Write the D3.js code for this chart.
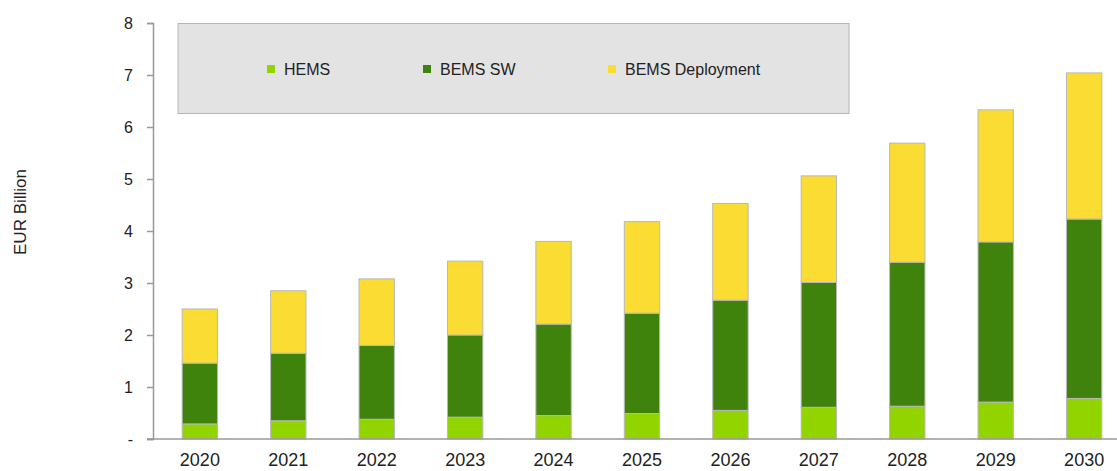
<!DOCTYPE html>
<html>
<head>
<meta charset="utf-8">
<script src="https://cdn.jsdelivr.net/npm/d3@7"></script>
<style>
  html, body { margin: 0; padding: 0; background: #fff; }
  svg { display: block; font-family: "Liberation Sans", Arial, sans-serif; }
</style>
</head>
<body>
<div id="chart"></div>
<script>
// values (EUR billion)
const years = ['2020', '2021', '2022', '2023', '2024', '2025', '2026', '2027', '2028', '2029', '2030'];
const hems = [0.29, 0.35, 0.38, 0.42, 0.45, 0.49, 0.55, 0.61, 0.63, 0.71, 0.78];
const bemsSw = [1.17, 1.30, 1.42, 1.58, 1.76, 1.93, 2.12, 2.40, 2.77, 3.08, 3.45];
const bemsDeploy = [1.04, 1.20, 1.28, 1.42, 1.59, 1.76, 1.86, 2.05, 2.29, 2.54, 2.81];
const seriesNames = ['HEMS', 'BEMS SW', 'BEMS Deployment'];
const yTicks = [0, 1, 2, 3, 4, 5, 6, 7, 8];

const colors = ['#92d400', '#3f820c', '#fadc32'];

const width = 1117, height = 471;
const axisX = 153, baseY = 439, topY = 23;

const rows = years.map((y, i) => ({ year: y, 'HEMS': hems[i], 'BEMS SW': bemsSw[i], 'BEMS Deployment': bemsDeploy[i] }));
const stacked = d3.stack().keys(seriesNames)(rows);

const svg = d3.select('#chart').append('svg')
    .attr('width', width)
    .attr('height', height);

const x = d3.scaleBand()
    .domain(years)
    .range([axisX, 1131])
    .paddingInner(0.6)
    .paddingOuter(0.33);

const y = d3.scaleLinear()
    .domain([0, 8])
    .range([baseY, topY]);

// bars
svg.append('g')
    .selectAll('g')
    .data(stacked)
    .join('g')
    .attr('fill', (d, i) => colors[i])
    .selectAll('rect')
    .data(d => d)
    .join('rect')
    .attr('x', d => x(d.data.year))
    .attr('y', d => y(d[1]))
    .attr('width', x.bandwidth())
    .attr('height', d => y(d[0]) - y(d[1]))
    .attr('stroke', '#b8b8b8')
    .attr('stroke-width', 1);

// y axis
const yAxis = svg.append('g')
    .attr('transform', `translate(${axisX},0)`)
    .call(d3.axisLeft(y).tickValues(yTicks).tickSize(6).tickPadding(14)
        .tickFormat(d => d === 0 ? '-' : d3.format('d')(d)));
yAxis.select('.domain').attr('stroke', '#999').attr('stroke-width', 1.5);
yAxis.selectAll('.tick line').attr('stroke', '#999').attr('stroke-width', 1.5);
yAxis.selectAll('.tick text').attr('fill', '#222').attr('font-size', 16);

// x axis
const xAxis = svg.append('g')
    .attr('transform', `translate(0,${baseY})`)
    .call(d3.axisBottom(x).tickSize(0).tickPadding(14));
xAxis.select('.domain').remove();
xAxis.append('line')
    .attr('x1', axisX - 6).attr('x2', width)
    .attr('stroke', '#999').attr('stroke-width', 1.5);
xAxis.selectAll('.tick text').attr('fill', '#222').attr('font-size', 18);

// y axis title
svg.append('text')
    .attr('transform', 'translate(26,212) rotate(-90)')
    .attr('text-anchor', 'middle')
    .attr('font-size', 17)
    .attr('fill', '#222')
    .text('EUR Billion');

// legend box
svg.append('rect')
    .attr('x', 178).attr('y', 23.5)
    .attr('width', 671).attr('height', 90)
    .attr('fill', '#e3e3e3')
    .attr('stroke', '#b5b5b5')
    .attr('stroke-width', 1);

const legendX = [267, 423, 608];
const legend = svg.append('g')
    .selectAll('g')
    .data(seriesNames)
    .join('g')
    .attr('transform', (d, i) => `translate(${legendX[i]},69)`);
legend.append('rect')
    .attr('x', 0).attr('y', -4)
    .attr('width', 8).attr('height', 8)
    .attr('fill', (d, i) => colors[i]);
legend.append('text')
    .attr('x', 17)
    .attr('dy', '0.35em')
    .attr('font-size', 16)
    .attr('fill', '#222')
    .text(d => d);
</script>
</body>
</html>
